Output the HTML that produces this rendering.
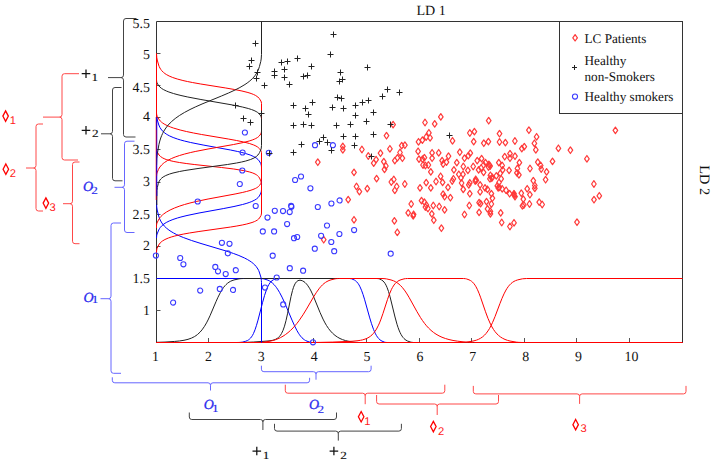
<!DOCTYPE html><html><head><meta charset="utf-8"><style>html,body{margin:0;padding:0;background:#fff;}svg{display:block;text-rendering:geometricPrecision;}.sf{font-family:"Liberation Serif",serif;} .ss{font-family:"Liberation Sans",sans-serif;}</style></head><body>
<svg width="713" height="465" viewBox="0 0 713 465">
<rect width="713" height="465" fill="#fff"/>
<path d="M156.5,343 L156.5,21.5 L682.5,21.5 L682.5,343" fill="none" stroke="#333" stroke-width="1"/>
<path d="M156.5,342.5 L682.5,342.5" fill="none" stroke="#333" stroke-width="1"/>
<path d="M208.5,342 L208.5,338 M261.5,342 L261.5,338 M313.5,342 L313.5,338 M366.5,342 L366.5,338 M419.5,342 L419.5,338 M471.5,342 L471.5,338 M524.5,342 L524.5,338 M576.5,342 L576.5,338 M629.5,342 L629.5,338 M156.5,310.5 L160.5,310.5 M156.5,278.5 L160.5,278.5 M156.5,246.5 L160.5,246.5 M156.5,214.5 L160.5,214.5 M156.5,182.5 L160.5,182.5 M156.5,149.5 L160.5,149.5 M156.5,117.5 L160.5,117.5 M156.5,85.5 L160.5,85.5 M156.5,53.5 L160.5,53.5" stroke="#555" stroke-width="1" fill="none"/>
<path d="M156.50,278.50 L261.50,278.50 L264.00,278.88 L268.00,280.20 L269.50,280.93 L271.00,281.88 L272.50,283.08 L274.00,284.55 L275.50,286.30 L276.50,287.63 L278.00,289.86 L279.50,292.37 L282.00,297.10 L284.50,302.43 L292.00,320.10 L294.50,325.71 L297.00,330.67 L298.50,333.22 L299.50,334.73 L300.50,336.08 L302.00,337.79 L303.00,338.73 L304.50,339.87 L305.50,340.47 L307.00,341.16 L309.50,342.02 L311.00,342.36 L312.50,342.50 L682.50,342.50" fill="none" stroke="#0000ff" stroke-width="1"/>
<path d="M156.50,342.50 L239.00,342.50 L241.00,342.37 L242.50,342.16 L245.50,341.31 L247.50,340.48 L248.50,339.88 L249.50,339.11 L250.50,338.13 L251.50,336.90 L252.50,335.35 L253.50,333.44 L255.00,329.81 L256.50,325.30 L258.00,320.12 L262.50,302.74 L264.50,295.60 L266.50,289.66 L268.00,286.17 L269.00,284.31 L270.00,282.80 L271.00,281.61 L272.00,280.69 L273.50,279.73 L275.50,278.83 L276.50,278.60 L277.50,278.50 L349.50,278.50 L351.50,278.76 L354.50,280.07 L355.50,280.74 L356.50,281.61 L358.00,283.38 L359.00,284.93 L360.00,286.81 L361.50,290.24 L363.00,294.40 L364.50,299.19 L369.50,317.08 L371.50,323.69 L373.50,329.34 L374.50,331.73 L375.50,333.83 L376.50,335.63 L377.50,337.14 L378.50,338.39 L380.00,339.84 L381.00,340.55 L382.00,341.11 L384.50,342.13 L385.50,342.37 L387.00,342.50 L682.50,342.50" fill="none" stroke="#0000ff" stroke-width="1"/>
<path d="M156.50,342.34 L165.00,342.07 L174.50,341.44 L179.50,340.96 L184.00,340.28 L188.00,339.33 L191.50,338.09 L194.50,336.58 L196.00,335.62 L197.50,334.49 L200.00,332.18 L202.00,329.86 L204.50,326.30 L206.50,322.88 L208.00,319.99 L210.00,315.74 L216.00,301.67 L218.00,297.21 L220.50,292.27 L222.50,288.97 L223.50,287.54 L225.00,285.68 L226.00,284.62 L227.50,283.27 L229.00,282.18 L230.50,281.31 L232.00,280.63 L234.00,279.95 L239.00,278.83 L241.00,278.61 L243.50,278.50 L377.00,278.50 L378.50,278.66 L379.50,278.97 L381.50,279.91 L383.00,280.98 L384.00,282.02 L385.00,283.39 L386.00,285.15 L387.00,287.34 L388.50,291.48 L390.00,296.62 L395.00,317.01 L397.00,324.25 L398.00,327.34 L399.00,330.06 L400.00,332.40 L401.00,334.38 L402.00,336.05 L403.00,337.42 L404.00,338.55 L405.00,339.46 L406.00,340.18 L407.50,341.00 L411.00,342.22 L413.50,342.50 L682.50,342.50" fill="none" stroke="#222222" stroke-width="1"/>
<path d="M156.50,342.50 L236.50,342.50 L246.50,342.33 L253.50,342.02 L264.00,341.31 L269.00,340.88 L272.50,340.33 L274.00,339.92 L275.50,339.35 L277.50,338.21 L278.50,337.41 L279.50,336.41 L280.50,335.15 L281.50,333.56 L283.00,330.43 L284.50,326.17 L286.00,320.62 L287.50,313.85 L291.00,296.55 L292.50,290.49 L293.50,287.32 L294.00,286.01 L295.00,283.88 L295.50,283.04 L296.50,281.77 L297.00,281.30 L298.00,280.66 L299.00,280.32 L300.00,280.23 L301.00,280.34 L302.50,280.83 L304.00,281.69 L305.00,282.47 L306.50,283.97 L307.50,285.19 L309.50,288.22 L311.00,290.98 L313.00,295.25 L320.00,312.40 L323.00,319.07 L325.00,322.93 L326.50,325.49 L328.50,328.49 L330.50,331.03 L332.50,333.18 L335.00,335.38 L337.50,337.13 L340.00,338.52 L342.50,339.60 L345.50,340.58 L348.00,341.18 L353.00,342.11 L355.00,342.35 L358.50,342.50 L682.50,342.50" fill="none" stroke="#222222" stroke-width="1"/>
<path d="M156.50,342.50 L257.50,342.50 L262.00,342.33 L265.00,342.01 L271.00,340.98 L273.50,340.35 L275.50,339.72 L278.00,338.76 L280.50,337.59 L283.00,336.19 L285.50,334.54 L288.00,332.63 L290.50,330.44 L293.00,327.95 L295.00,325.74 L297.00,323.33 L299.00,320.70 L303.00,314.82 L306.50,309.09 L313.50,297.02 L316.50,292.25 L319.50,288.14 L321.00,286.38 L322.50,284.84 L324.00,283.52 L325.50,282.41 L327.00,281.49 L329.00,280.54 L331.00,279.85 L335.00,278.85 L336.50,278.64 L338.50,278.50 L382.00,278.50 L384.00,278.60 L386.50,278.90 L391.00,279.94 L393.50,280.79 L395.50,281.74 L398.00,283.34 L400.50,285.50 L402.50,287.67 L405.00,290.93 L407.00,293.95 L409.00,297.27 L417.00,311.73 L420.50,317.58 L422.50,320.59 L424.50,323.33 L426.50,325.80 L428.50,327.99 L431.00,330.38 L433.50,332.42 L436.00,334.14 L439.00,335.85 L442.00,337.25 L445.50,338.54 L449.00,339.56 L453.00,340.44 L457.50,341.16 L465.50,342.11 L468.50,342.34 L473.50,342.50 L682.50,342.50" fill="none" stroke="#ff0000" stroke-width="1"/>
<path d="M156.50,342.50 L308.00,342.50 L320.50,342.38 L332.50,342.10 L352.00,341.26 L358.00,340.70 L360.50,340.29 L362.50,339.86 L365.00,339.11 L367.00,338.30 L369.00,337.22 L370.50,336.18 L372.00,334.90 L373.50,333.32 L375.00,331.39 L376.50,329.04 L378.50,325.17 L379.50,322.91 L381.00,319.10 L383.00,313.36 L387.50,299.44 L389.50,293.90 L391.50,289.30 L392.50,287.40 L394.00,285.03 L395.00,283.75 L396.50,282.23 L397.50,281.44 L399.00,280.53 L401.00,279.72 L404.00,278.86 L405.50,278.62 L407.50,278.50 L463.50,278.50 L465.50,278.68 L466.50,278.92 L469.00,279.82 L470.50,280.56 L471.50,281.24 L472.50,282.09 L474.00,283.74 L475.00,285.13 L476.00,286.77 L477.50,289.71 L479.00,293.21 L480.50,297.17 L485.50,311.75 L488.00,318.46 L490.50,324.14 L492.00,327.00 L493.50,329.48 L495.00,331.60 L497.00,333.94 L498.50,335.39 L500.50,336.97 L502.50,338.23 L505.00,339.45 L507.50,340.36 L510.00,341.03 L516.50,342.17 L518.50,342.35 L522.00,342.50 L682.50,342.50" fill="none" stroke="#ff0000" stroke-width="1"/>
<path d="M156.50,342.50 L460.00,342.50 L464.00,342.34 L466.50,342.11 L471.50,341.34 L474.00,340.83 L476.50,340.11 L478.50,339.32 L480.50,338.28 L482.50,336.93 L484.50,335.18 L486.00,333.55 L488.00,330.88 L489.50,328.48 L491.00,325.71 L492.50,322.58 L495.00,316.63 L500.00,303.40 L502.00,298.36 L504.00,293.86 L506.00,290.04 L507.00,288.40 L508.50,286.28 L509.50,285.07 L511.00,283.56 L512.50,282.35 L514.00,281.40 L515.50,280.66 L517.50,279.95 L522.50,278.79 L526.50,278.50 L682.50,278.50" fill="none" stroke="#ff0000" stroke-width="1"/>
<path d="M156.50,117.50 L156.50,202.50 L156.76,207.00 L157.20,210.00 L158.68,216.00 L159.35,218.00 L160.20,220.00 L161.27,222.00 L162.61,224.00 L164.28,226.00 L166.34,228.00 L168.85,230.00 L171.07,231.50 L173.62,233.00 L176.50,234.50 L179.74,236.00 L183.34,237.50 L191.58,240.50 L201.01,243.50 L226.10,251.00 L233.58,253.50 L238.88,255.50 L244.54,258.00 L247.40,259.50 L249.88,261.00 L251.34,262.00 L253.24,263.50 L254.84,265.00 L256.17,266.50 L257.88,269.00 L258.66,270.50 L259.28,272.00 L260.85,277.00 L261.16,278.50 L261.36,280.50 L261.50,282.50 L261.50,342.50" fill="none" stroke="#0000ff" stroke-width="1"/>
<path d="M156.80,117.50 L157.31,120.00 L158.84,125.00 L159.99,127.50 L160.93,129.00 L161.69,130.00 L163.61,132.00 L164.82,133.00 L166.23,134.00 L167.86,135.00 L169.76,136.00 L173.17,137.50 L177.36,139.00 L180.64,140.00 L184.33,141.00 L190.66,142.50 L203.11,145.00 L230.53,150.00 L237.70,151.50 L241.90,152.50 L245.59,153.50 L250.16,155.00 L253.65,156.50 L256.21,158.00 L258.03,159.50 L259.27,161.00 L260.73,163.50 L261.27,165.00 L261.50,167.00 L261.50,189.50 L261.30,191.50 L260.90,193.00 L259.34,196.00 L258.17,197.50 L256.41,199.00 L254.85,200.00 L251.79,201.50 L249.20,202.50 L246.14,203.50 L242.57,204.50 L233.98,206.50 L223.77,208.50 L199.02,213.00 L187.01,215.50 L180.96,217.00 L177.44,218.00 L172.92,219.50 L169.23,221.00 L166.26,222.50 L163.91,224.00 L162.07,225.50 L160.24,227.50 L159.55,228.50 L158.72,230.00 L157.09,234.00 L156.73,235.50 L156.50,238.00" fill="none" stroke="#0000ff" stroke-width="1"/>
<path d="M156.50,53.50 L156.78,57.50 L157.23,60.00 L158.63,65.00 L159.20,66.50 L159.92,68.00 L160.84,69.50 L161.60,70.50 L163.57,72.50 L164.84,73.50 L166.34,74.50 L169.13,76.00 L172.71,77.50 L177.25,79.00 L182.91,80.50 L187.36,81.50 L192.35,82.50 L200.77,84.00 L225.81,88.00 L234.50,89.50 L241.96,91.00 L247.94,92.50 L251.10,93.50 L253.65,94.50 L255.67,95.50 L257.86,97.00 L259.29,98.50 L260.90,101.00 L261.27,102.00 L261.50,103.50 L261.50,131.00 L261.40,132.00 L261.20,133.00 L260.72,134.00 L259.22,136.00 L258.14,137.00 L257.46,137.50 L255.77,138.50 L254.73,139.00 L252.25,140.00 L249.15,141.00 L243.34,142.50 L233.60,144.50 L208.05,149.00 L195.19,151.50 L190.69,152.50 L184.68,154.00 L179.54,155.50 L175.19,157.00 L171.53,158.50 L167.56,160.50 L164.46,162.50 L163.19,163.50 L161.58,165.00 L159.91,167.00 L159.25,168.00 L158.45,169.50 L156.95,173.00 L156.66,174.50 L156.55,176.00" fill="none" stroke="#ff0000" stroke-width="1"/>
<path d="M156.50,90.00 L156.50,113.00 L156.74,115.00 L157.30,116.50 L158.70,119.00 L159.41,120.00 L160.28,121.00 L161.35,122.00 L162.64,123.00 L164.17,124.00 L165.98,125.00 L168.10,126.00 L170.55,127.00 L173.36,128.00 L180.17,130.00 L186.39,131.50 L193.56,133.00 L201.61,134.50 L228.27,139.00 L236.52,140.50 L243.66,142.00 L249.44,143.50 L253.78,145.00 L255.94,146.00 L257.60,147.00 L258.26,147.50 L259.31,148.50 L260.86,150.50 L261.30,151.50 L261.50,152.50 L261.50,180.50 L261.40,181.50 L261.23,182.50 L260.81,183.50 L259.45,185.50 L258.52,186.50 L257.90,187.00 L256.32,188.00 L255.33,188.50 L252.96,189.50 L250.00,190.50 L246.42,191.50 L242.26,192.50 L235.07,194.00 L208.08,199.00 L196.13,201.50 L189.96,203.00 L184.55,204.50 L179.83,206.00 L174.51,208.00 L170.12,210.00 L166.53,212.00 L163.64,214.00 L162.43,215.00 L160.89,216.50 L160.04,217.50 L158.99,219.00 L156.96,223.00 L156.70,224.00 L156.50,225.50 L156.50,228.00" fill="none" stroke="#ff0000" stroke-width="1"/>
<path d="M156.50,130.00 L156.50,148.50 L156.77,150.50 L157.31,152.00 L158.40,154.00 L159.07,155.00 L160.53,156.50 L162.78,158.00 L164.90,159.00 L166.22,159.50 L169.52,160.50 L173.85,161.50 L179.38,162.50 L186.20,163.50 L194.23,164.50 L221.62,167.50 L233.76,169.00 L243.14,170.50 L245.62,171.00 L249.71,172.00 L252.80,173.00 L255.09,174.00 L256.76,175.00 L257.42,175.50 L258.45,176.50 L259.50,178.00 L260.90,181.00 L261.28,182.50 L261.50,184.50 L261.50,213.00 L261.39,214.00 L261.03,215.50 L259.49,218.00 L258.63,219.00 L257.41,220.00 L255.71,221.00 L254.65,221.50 L252.05,222.50 L246.78,224.00 L242.23,225.00 L236.85,226.00 L230.71,227.00 L198.93,231.50 L189.38,233.00 L183.82,234.00 L178.96,235.00 L174.80,236.00 L171.29,237.00 L168.38,238.00 L164.95,239.50 L162.43,241.00 L161.16,242.00 L160.14,243.00 L159.33,244.00 L158.68,245.00 L157.02,248.50 L156.68,250.00 L156.50,252.00 L156.50,253.00" fill="none" stroke="#ff0000" stroke-width="1"/>
<path d="M261.50,21.50 L261.50,54.50 L261.20,59.00 L260.75,61.50 L259.46,66.50 L258.64,69.00 L257.79,71.00 L257.03,72.50 L256.13,74.00 L255.08,75.50 L253.88,77.00 L252.50,78.50 L250.93,80.00 L249.16,81.50 L247.17,83.00 L244.97,84.50 L239.90,87.50 L235.04,90.00 L228.53,93.00 L221.48,96.00 L202.03,104.00 L195.24,107.00 L190.03,109.50 L184.38,112.50 L179.45,115.50 L175.22,118.50 L171.65,121.50 L170.10,123.00 L168.24,125.00 L166.61,127.00 L165.18,129.00 L163.93,131.00 L162.60,133.50 L161.69,135.50 L160.73,138.00 L159.79,141.00 L158.93,144.50 L157.28,154.00 L156.78,158.50 L156.55,165.00" fill="none" stroke="#222222" stroke-width="1"/>
<path d="M156.50,80.00 L156.69,82.00 L157.01,83.00 L158.58,85.50 L159.87,87.00 L161.72,88.50 L163.32,89.50 L166.38,91.00 L168.89,92.00 L173.43,93.50 L177.00,94.50 L180.99,95.50 L187.77,97.00 L200.92,99.50 L232.67,105.00 L242.40,107.00 L248.28,108.50 L251.46,109.50 L254.06,110.50 L256.12,111.50 L257.71,112.50 L259.37,114.00 L260.83,116.00 L261.25,117.00 L261.50,118.50 L261.50,145.50 L261.27,148.00 L261.05,149.00 L260.70,150.00 L259.58,152.50 L259.03,153.50 L257.92,155.00 L256.33,156.50 L253.99,158.00 L250.59,159.50 L245.77,161.00 L241.58,162.00 L236.54,163.00 L227.41,164.50 L198.03,168.50 L184.91,170.50 L179.52,171.50 L173.00,173.00 L169.63,174.00 L165.80,175.50 L163.11,177.00 L161.79,178.00 L160.76,179.00 L159.96,180.00 L159.34,181.00 L158.85,182.00 L158.31,183.50 L157.34,187.50 L156.98,190.50 L156.81,205.00" fill="none" stroke="#222222" stroke-width="1"/>
<path d="M156.5,53.5 L156.5,117" stroke="#ff0000" stroke-width="1"/>
<path d="M156.15,117 L156.15,200" stroke="#ff0000" stroke-width="0.75"/>
<path d="M156.85,117 L156.85,196" stroke="#0000ff" stroke-width="0.75"/>
<path d="M393.1,121.3 l2.3,3.3 l-2.3,3.3 l-2.3,-3.3z M425.0,119.2 l2.3,3.3 l-2.3,3.3 l-2.3,-3.3z M386.5,132.4 l2.3,3.3 l-2.3,3.3 l-2.3,-3.3z M428.9,129.5 l2.3,3.3 l-2.3,3.3 l-2.3,-3.3z M426.2,133.7 l2.3,3.3 l-2.3,3.3 l-2.3,-3.3z M422.4,136.8 l2.3,3.3 l-2.3,3.3 l-2.3,-3.3z M418.5,138.5 l2.3,3.3 l-2.3,3.3 l-2.3,-3.3z M401.7,142.3 l2.3,3.3 l-2.3,3.3 l-2.3,-3.3z M404.9,141.9 l2.3,3.3 l-2.3,3.3 l-2.3,-3.3z M342.8,143.1 l2.3,3.3 l-2.3,3.3 l-2.3,-3.3z M342.8,146.5 l2.3,3.3 l-2.3,3.3 l-2.3,-3.3z M440.8,113.6 l2.3,3.3 l-2.3,3.3 l-2.3,-3.3z M434.7,120.6 l2.3,3.3 l-2.3,3.3 l-2.3,-3.3z M430.1,134.5 l2.3,3.3 l-2.3,3.3 l-2.3,-3.3z M452.5,137.5 l2.3,3.3 l-2.3,3.3 l-2.3,-3.3z M488.7,117.4 l2.3,3.3 l-2.3,3.3 l-2.3,-3.3z M469.8,129.7 l2.3,3.3 l-2.3,3.3 l-2.3,-3.3z M474.4,128.3 l2.3,3.3 l-2.3,3.3 l-2.3,-3.3z M499.5,130.4 l2.3,3.3 l-2.3,3.3 l-2.3,-3.3z M473.7,138.3 l2.3,3.3 l-2.3,3.3 l-2.3,-3.3z M483.8,139.9 l2.3,3.3 l-2.3,3.3 l-2.3,-3.3z M488.4,138.3 l2.3,3.3 l-2.3,3.3 l-2.3,-3.3z M499.5,138.7 l2.3,3.3 l-2.3,3.3 l-2.3,-3.3z M505.4,139.3 l2.3,3.3 l-2.3,3.3 l-2.3,-3.3z M514.9,137.7 l2.3,3.3 l-2.3,3.3 l-2.3,-3.3z M528.9,126.9 l2.3,3.3 l-2.3,3.3 l-2.3,-3.3z M536.6,133.5 l2.3,3.3 l-2.3,3.3 l-2.3,-3.3z M521.8,145.3 l2.3,3.3 l-2.3,3.3 l-2.3,-3.3z M524.3,143.4 l2.3,3.3 l-2.3,3.3 l-2.3,-3.3z M534.4,140.0 l2.3,3.3 l-2.3,3.3 l-2.3,-3.3z M558.4,145.0 l2.3,3.3 l-2.3,3.3 l-2.3,-3.3z M615.4,127.1 l2.3,3.3 l-2.3,3.3 l-2.3,-3.3z M570.4,146.9 l2.3,3.3 l-2.3,3.3 l-2.3,-3.3z M586.9,155.5 l2.3,3.3 l-2.3,3.3 l-2.3,-3.3z M361.9,146.2 l2.3,3.3 l-2.3,3.3 l-2.3,-3.3z M368.3,152.7 l2.3,3.3 l-2.3,3.3 l-2.3,-3.3z M380.5,149.9 l2.3,3.3 l-2.3,3.3 l-2.3,-3.3z M389.9,145.5 l2.3,3.3 l-2.3,3.3 l-2.3,-3.3z M376.1,156.3 l2.3,3.3 l-2.3,3.3 l-2.3,-3.3z M373.7,159.8 l2.3,3.3 l-2.3,3.3 l-2.3,-3.3z M383.8,158.3 l2.3,3.3 l-2.3,3.3 l-2.3,-3.3z M385.9,162.7 l2.3,3.3 l-2.3,3.3 l-2.3,-3.3z M384.5,166.1 l2.3,3.3 l-2.3,3.3 l-2.3,-3.3z M394.8,157.3 l2.3,3.3 l-2.3,3.3 l-2.3,-3.3z M397.4,154.6 l2.3,3.3 l-2.3,3.3 l-2.3,-3.3z M400.0,149.2 l2.3,3.3 l-2.3,3.3 l-2.3,-3.3z M354.0,169.1 l2.3,3.3 l-2.3,3.3 l-2.3,-3.3z M376.6,175.3 l2.3,3.3 l-2.3,3.3 l-2.3,-3.3z M393.8,176.2 l2.3,3.3 l-2.3,3.3 l-2.3,-3.3z M391.3,178.7 l2.3,3.3 l-2.3,3.3 l-2.3,-3.3z M356.5,183.2 l2.3,3.3 l-2.3,3.3 l-2.3,-3.3z M396.7,183.2 l2.3,3.3 l-2.3,3.3 l-2.3,-3.3z M402.4,154.9 l2.3,3.3 l-2.3,3.3 l-2.3,-3.3z M418.1,148.0 l2.3,3.3 l-2.3,3.3 l-2.3,-3.3z M419.0,155.8 l2.3,3.3 l-2.3,3.3 l-2.3,-3.3z M422.5,155.8 l2.3,3.3 l-2.3,3.3 l-2.3,-3.3z M424.4,154.4 l2.3,3.3 l-2.3,3.3 l-2.3,-3.3z M423.0,161.7 l2.3,3.3 l-2.3,3.3 l-2.3,-3.3z M425.4,162.2 l2.3,3.3 l-2.3,3.3 l-2.3,-3.3z M428.4,161.7 l2.3,3.3 l-2.3,3.3 l-2.3,-3.3z M430.8,168.6 l2.3,3.3 l-2.3,3.3 l-2.3,-3.3z M432.1,149.5 l2.3,3.3 l-2.3,3.3 l-2.3,-3.3z M432.1,154.9 l2.3,3.3 l-2.3,3.3 l-2.3,-3.3z M438.7,149.5 l2.3,3.3 l-2.3,3.3 l-2.3,-3.3z M448.5,152.9 l2.3,3.3 l-2.3,3.3 l-2.3,-3.3z M442.1,157.3 l2.3,3.3 l-2.3,3.3 l-2.3,-3.3z M443.1,160.7 l2.3,3.3 l-2.3,3.3 l-2.3,-3.3z M446.5,158.8 l2.3,3.3 l-2.3,3.3 l-2.3,-3.3z M459.8,148.9 l2.3,3.3 l-2.3,3.3 l-2.3,-3.3z M456.8,159.3 l2.3,3.3 l-2.3,3.3 l-2.3,-3.3z M464.5,154.9 l2.3,3.3 l-2.3,3.3 l-2.3,-3.3z M453.9,166.6 l2.3,3.3 l-2.3,3.3 l-2.3,-3.3z M463.3,163.2 l2.3,3.3 l-2.3,3.3 l-2.3,-3.3z M458.8,171.0 l2.3,3.3 l-2.3,3.3 l-2.3,-3.3z M463.0,171.0 l2.3,3.3 l-2.3,3.3 l-2.3,-3.3z M461.0,174.5 l2.3,3.3 l-2.3,3.3 l-2.3,-3.3z M453.4,175.5 l2.3,3.3 l-2.3,3.3 l-2.3,-3.3z M452.2,177.7 l2.3,3.3 l-2.3,3.3 l-2.3,-3.3z M440.6,173.0 l2.3,3.3 l-2.3,3.3 l-2.3,-3.3z M436.0,178.2 l2.3,3.3 l-2.3,3.3 l-2.3,-3.3z M442.6,179.1 l2.3,3.3 l-2.3,3.3 l-2.3,-3.3z M426.2,179.3 l2.3,3.3 l-2.3,3.3 l-2.3,-3.3z M404.8,180.7 l2.3,3.3 l-2.3,3.3 l-2.3,-3.3z M461.6,179.7 l2.3,3.3 l-2.3,3.3 l-2.3,-3.3z M468.3,152.4 l2.3,3.3 l-2.3,3.3 l-2.3,-3.3z M470.3,149.9 l2.3,3.3 l-2.3,3.3 l-2.3,-3.3z M477.2,157.3 l2.3,3.3 l-2.3,3.3 l-2.3,-3.3z M481.6,155.3 l2.3,3.3 l-2.3,3.3 l-2.3,-3.3z M473.2,163.2 l2.3,3.3 l-2.3,3.3 l-2.3,-3.3z M467.9,167.1 l2.3,3.3 l-2.3,3.3 l-2.3,-3.3z M478.6,166.6 l2.3,3.3 l-2.3,3.3 l-2.3,-3.3z M481.1,164.7 l2.3,3.3 l-2.3,3.3 l-2.3,-3.3z M483.6,161.7 l2.3,3.3 l-2.3,3.3 l-2.3,-3.3z M485.5,159.3 l2.3,3.3 l-2.3,3.3 l-2.3,-3.3z M489.4,161.7 l2.3,3.3 l-2.3,3.3 l-2.3,-3.3z M488.5,163.7 l2.3,3.3 l-2.3,3.3 l-2.3,-3.3z M483.6,169.1 l2.3,3.3 l-2.3,3.3 l-2.3,-3.3z M490.4,172.0 l2.3,3.3 l-2.3,3.3 l-2.3,-3.3z M492.4,174.0 l2.3,3.3 l-2.3,3.3 l-2.3,-3.3z M489.9,175.5 l2.3,3.3 l-2.3,3.3 l-2.3,-3.3z M475.7,176.0 l2.3,3.3 l-2.3,3.3 l-2.3,-3.3z M475.2,177.7 l2.3,3.3 l-2.3,3.3 l-2.3,-3.3z M469.8,179.5 l2.3,3.3 l-2.3,3.3 l-2.3,-3.3z M498.8,159.3 l2.3,3.3 l-2.3,3.3 l-2.3,-3.3z M502.2,162.2 l2.3,3.3 l-2.3,3.3 l-2.3,-3.3z M502.7,166.6 l2.3,3.3 l-2.3,3.3 l-2.3,-3.3z M509.1,167.1 l2.3,3.3 l-2.3,3.3 l-2.3,-3.3z M500.2,170.1 l2.3,3.3 l-2.3,3.3 l-2.3,-3.3z M496.3,172.5 l2.3,3.3 l-2.3,3.3 l-2.3,-3.3z M501.2,175.5 l2.3,3.3 l-2.3,3.3 l-2.3,-3.3z M499.0,179.2 l2.3,3.3 l-2.3,3.3 l-2.3,-3.3z M504.7,153.4 l2.3,3.3 l-2.3,3.3 l-2.3,-3.3z M510.0,150.4 l2.3,3.3 l-2.3,3.3 l-2.3,-3.3z M510.0,154.9 l2.3,3.3 l-2.3,3.3 l-2.3,-3.3z M515.0,152.9 l2.3,3.3 l-2.3,3.3 l-2.3,-3.3z M519.4,159.3 l2.3,3.3 l-2.3,3.3 l-2.3,-3.3z M517.4,165.2 l2.3,3.3 l-2.3,3.3 l-2.3,-3.3z M516.9,169.6 l2.3,3.3 l-2.3,3.3 l-2.3,-3.3z M518.9,171.5 l2.3,3.3 l-2.3,3.3 l-2.3,-3.3z M530.0,165.2 l2.3,3.3 l-2.3,3.3 l-2.3,-3.3z M535.8,146.5 l2.3,3.3 l-2.3,3.3 l-2.3,-3.3z M552.5,158.1 l2.3,3.3 l-2.3,3.3 l-2.3,-3.3z M537.8,158.8 l2.3,3.3 l-2.3,3.3 l-2.3,-3.3z M540.7,162.2 l2.3,3.3 l-2.3,3.3 l-2.3,-3.3z M541.2,165.7 l2.3,3.3 l-2.3,3.3 l-2.3,-3.3z M546.6,168.6 l2.3,3.3 l-2.3,3.3 l-2.3,-3.3z M533.3,177.4 l2.3,3.3 l-2.3,3.3 l-2.3,-3.3z M545.6,176.4 l2.3,3.3 l-2.3,3.3 l-2.3,-3.3z M534.8,182.2 l2.3,3.3 l-2.3,3.3 l-2.3,-3.3z M534.8,185.0 l2.3,3.3 l-2.3,3.3 l-2.3,-3.3z M593.9,180.7 l2.3,3.3 l-2.3,3.3 l-2.3,-3.3z M599.3,192.5 l2.3,3.3 l-2.3,3.3 l-2.3,-3.3z M594.0,196.4 l2.3,3.3 l-2.3,3.3 l-2.3,-3.3z M577.0,218.9 l2.3,3.3 l-2.3,3.3 l-2.3,-3.3z M359.4,188.3 l2.3,3.3 l-2.3,3.3 l-2.3,-3.3z M367.3,185.3 l2.3,3.3 l-2.3,3.3 l-2.3,-3.3z M394.8,187.0 l2.3,3.3 l-2.3,3.3 l-2.3,-3.3z M348.2,196.3 l2.3,3.3 l-2.3,3.3 l-2.3,-3.3z M354.0,216.5 l2.3,3.3 l-2.3,3.3 l-2.3,-3.3z M394.4,217.6 l2.3,3.3 l-2.3,3.3 l-2.3,-3.3z M397.3,229.0 l2.3,3.3 l-2.3,3.3 l-2.3,-3.3z M420.0,184.6 l2.3,3.3 l-2.3,3.3 l-2.3,-3.3z M430.8,184.6 l2.3,3.3 l-2.3,3.3 l-2.3,-3.3z M448.0,184.1 l2.3,3.3 l-2.3,3.3 l-2.3,-3.3z M463.3,186.0 l2.3,3.3 l-2.3,3.3 l-2.3,-3.3z M443.1,190.9 l2.3,3.3 l-2.3,3.3 l-2.3,-3.3z M444.6,193.4 l2.3,3.3 l-2.3,3.3 l-2.3,-3.3z M450.4,194.4 l2.3,3.3 l-2.3,3.3 l-2.3,-3.3z M411.2,200.7 l2.3,3.3 l-2.3,3.3 l-2.3,-3.3z M421.5,197.3 l2.3,3.3 l-2.3,3.3 l-2.3,-3.3z M424.4,198.8 l2.3,3.3 l-2.3,3.3 l-2.3,-3.3z M426.4,201.7 l2.3,3.3 l-2.3,3.3 l-2.3,-3.3z M425.4,203.7 l2.3,3.3 l-2.3,3.3 l-2.3,-3.3z M427.9,205.2 l2.3,3.3 l-2.3,3.3 l-2.3,-3.3z M433.3,202.2 l2.3,3.3 l-2.3,3.3 l-2.3,-3.3z M439.2,203.2 l2.3,3.3 l-2.3,3.3 l-2.3,-3.3z M444.6,206.6 l2.3,3.3 l-2.3,3.3 l-2.3,-3.3z M408.2,209.6 l2.3,3.3 l-2.3,3.3 l-2.3,-3.3z M413.6,211.0 l2.3,3.3 l-2.3,3.3 l-2.3,-3.3z M413.2,212.5 l2.3,3.3 l-2.3,3.3 l-2.3,-3.3z M431.8,210.6 l2.3,3.3 l-2.3,3.3 l-2.3,-3.3z M433.8,216.9 l2.3,3.3 l-2.3,3.3 l-2.3,-3.3z M464.5,211.2 l2.3,3.3 l-2.3,3.3 l-2.3,-3.3z M468.8,181.6 l2.3,3.3 l-2.3,3.3 l-2.3,-3.3z M480.1,181.6 l2.3,3.3 l-2.3,3.3 l-2.3,-3.3z M485.0,184.6 l2.3,3.3 l-2.3,3.3 l-2.3,-3.3z M487.5,186.0 l2.3,3.3 l-2.3,3.3 l-2.3,-3.3z M469.8,190.4 l2.3,3.3 l-2.3,3.3 l-2.3,-3.3z M480.1,188.5 l2.3,3.3 l-2.3,3.3 l-2.3,-3.3z M491.4,190.4 l2.3,3.3 l-2.3,3.3 l-2.3,-3.3z M492.4,194.9 l2.3,3.3 l-2.3,3.3 l-2.3,-3.3z M479.1,199.3 l2.3,3.3 l-2.3,3.3 l-2.3,-3.3z M480.6,200.3 l2.3,3.3 l-2.3,3.3 l-2.3,-3.3z M486.5,198.3 l2.3,3.3 l-2.3,3.3 l-2.3,-3.3z M491.4,200.7 l2.3,3.3 l-2.3,3.3 l-2.3,-3.3z M469.3,202.2 l2.3,3.3 l-2.3,3.3 l-2.3,-3.3z M487.5,205.6 l2.3,3.3 l-2.3,3.3 l-2.3,-3.3z M490.4,208.1 l2.3,3.3 l-2.3,3.3 l-2.3,-3.3z M490.4,210.6 l2.3,3.3 l-2.3,3.3 l-2.3,-3.3z M479.1,209.1 l2.3,3.3 l-2.3,3.3 l-2.3,-3.3z M497.3,182.6 l2.3,3.3 l-2.3,3.3 l-2.3,-3.3z M499.3,184.1 l2.3,3.3 l-2.3,3.3 l-2.3,-3.3z M502.2,185.5 l2.3,3.3 l-2.3,3.3 l-2.3,-3.3z M506.1,187.0 l2.3,3.3 l-2.3,3.3 l-2.3,-3.3z M509.6,190.4 l2.3,3.3 l-2.3,3.3 l-2.3,-3.3z M514.0,190.4 l2.3,3.3 l-2.3,3.3 l-2.3,-3.3z M515.0,193.4 l2.3,3.3 l-2.3,3.3 l-2.3,-3.3z M521.3,189.9 l2.3,3.3 l-2.3,3.3 l-2.3,-3.3z M527.2,185.5 l2.3,3.3 l-2.3,3.3 l-2.3,-3.3z M523.3,195.8 l2.3,3.3 l-2.3,3.3 l-2.3,-3.3z M523.8,201.7 l2.3,3.3 l-2.3,3.3 l-2.3,-3.3z M529.5,200.7 l2.3,3.3 l-2.3,3.3 l-2.3,-3.3z M500.7,209.6 l2.3,3.3 l-2.3,3.3 l-2.3,-3.3z M501.7,219.2 l2.3,3.3 l-2.3,3.3 l-2.3,-3.3z M514.0,219.5 l2.3,3.3 l-2.3,3.3 l-2.3,-3.3z M509.9,223.2 l2.3,3.3 l-2.3,3.3 l-2.3,-3.3z M529.9,191.4 l2.3,3.3 l-2.3,3.3 l-2.3,-3.3z M539.2,198.8 l2.3,3.3 l-2.3,3.3 l-2.3,-3.3z M542.2,201.2 l2.3,3.3 l-2.3,3.3 l-2.3,-3.3z M441.4,224.9 l2.3,3.3 l-2.3,3.3 l-2.3,-3.3z M317.8,158.9 l2.3,3.3 l-2.3,3.3 l-2.3,-3.3z M323.7,236.4 l2.3,3.3 l-2.3,3.3 l-2.3,-3.3z M490.2,162.7 l2.3,3.3 l-2.3,3.3 l-2.3,-3.3z M488.8,161.1 l2.3,3.3 l-2.3,3.3 l-2.3,-3.3z M476.3,177.0 l2.3,3.3 l-2.3,3.3 l-2.3,-3.3z M491.8,174.9 l2.3,3.3 l-2.3,3.3 l-2.3,-3.3z M463.2,186.1 l2.3,3.3 l-2.3,3.3 l-2.3,-3.3z M498.2,184.6 l2.3,3.3 l-2.3,3.3 l-2.3,-3.3z M522.4,202.5 l2.3,3.3 l-2.3,3.3 l-2.3,-3.3z M514.3,192.1 l2.3,3.3 l-2.3,3.3 l-2.3,-3.3z" fill="none" stroke="#ff3a3a" stroke-width="1.2" stroke-linejoin="round"/>
<path d="M242.35,132.50 a2.55,2.55 0 1,0 5.1,0 a2.55,2.55 0 1,0 -5.1,0 M312.45,145.20 a2.55,2.55 0 1,0 5.1,0 a2.55,2.55 0 1,0 -5.1,0 M330.35,145.20 a2.55,2.55 0 1,0 5.1,0 a2.55,2.55 0 1,0 -5.1,0 M266.25,152.80 a2.55,2.55 0 1,0 5.1,0 a2.55,2.55 0 1,0 -5.1,0 M240.05,152.50 a2.55,2.55 0 1,0 5.1,0 a2.55,2.55 0 1,0 -5.1,0 M239.75,170.50 a2.55,2.55 0 1,0 5.1,0 a2.55,2.55 0 1,0 -5.1,0 M237.25,184.00 a2.55,2.55 0 1,0 5.1,0 a2.55,2.55 0 1,0 -5.1,0 M292.55,180.00 a2.55,2.55 0 1,0 5.1,0 a2.55,2.55 0 1,0 -5.1,0 M298.45,176.50 a2.55,2.55 0 1,0 5.1,0 a2.55,2.55 0 1,0 -5.1,0 M307.85,188.30 a2.55,2.55 0 1,0 5.1,0 a2.55,2.55 0 1,0 -5.1,0 M337.05,200.40 a2.55,2.55 0 1,0 5.1,0 a2.55,2.55 0 1,0 -5.1,0 M328.85,203.50 a2.55,2.55 0 1,0 5.1,0 a2.55,2.55 0 1,0 -5.1,0 M195.15,201.50 a2.55,2.55 0 1,0 5.1,0 a2.55,2.55 0 1,0 -5.1,0 M253.15,206.00 a2.55,2.55 0 1,0 5.1,0 a2.55,2.55 0 1,0 -5.1,0 M272.25,210.80 a2.55,2.55 0 1,0 5.1,0 a2.55,2.55 0 1,0 -5.1,0 M280.45,211.10 a2.55,2.55 0 1,0 5.1,0 a2.55,2.55 0 1,0 -5.1,0 M288.55,205.90 a2.55,2.55 0 1,0 5.1,0 a2.55,2.55 0 1,0 -5.1,0 M288.85,206.70 a2.55,2.55 0 1,0 5.1,0 a2.55,2.55 0 1,0 -5.1,0 M287.15,212.10 a2.55,2.55 0 1,0 5.1,0 a2.55,2.55 0 1,0 -5.1,0 M264.95,217.60 a2.55,2.55 0 1,0 5.1,0 a2.55,2.55 0 1,0 -5.1,0 M284.55,224.10 a2.55,2.55 0 1,0 5.1,0 a2.55,2.55 0 1,0 -5.1,0 M260.25,231.40 a2.55,2.55 0 1,0 5.1,0 a2.55,2.55 0 1,0 -5.1,0 M271.55,231.40 a2.55,2.55 0 1,0 5.1,0 a2.55,2.55 0 1,0 -5.1,0 M291.45,238.20 a2.55,2.55 0 1,0 5.1,0 a2.55,2.55 0 1,0 -5.1,0 M294.65,237.00 a2.55,2.55 0 1,0 5.1,0 a2.55,2.55 0 1,0 -5.1,0 M270.15,255.70 a2.55,2.55 0 1,0 5.1,0 a2.55,2.55 0 1,0 -5.1,0 M315.25,207.00 a2.55,2.55 0 1,0 5.1,0 a2.55,2.55 0 1,0 -5.1,0 M324.45,225.50 a2.55,2.55 0 1,0 5.1,0 a2.55,2.55 0 1,0 -5.1,0 M318.55,235.80 a2.55,2.55 0 1,0 5.1,0 a2.55,2.55 0 1,0 -5.1,0 M336.85,234.00 a2.55,2.55 0 1,0 5.1,0 a2.55,2.55 0 1,0 -5.1,0 M328.75,242.00 a2.55,2.55 0 1,0 5.1,0 a2.55,2.55 0 1,0 -5.1,0 M312.25,248.70 a2.55,2.55 0 1,0 5.1,0 a2.55,2.55 0 1,0 -5.1,0 M331.65,251.20 a2.55,2.55 0 1,0 5.1,0 a2.55,2.55 0 1,0 -5.1,0 M351.55,230.10 a2.55,2.55 0 1,0 5.1,0 a2.55,2.55 0 1,0 -5.1,0 M388.15,253.70 a2.55,2.55 0 1,0 5.1,0 a2.55,2.55 0 1,0 -5.1,0 M219.35,242.80 a2.55,2.55 0 1,0 5.1,0 a2.55,2.55 0 1,0 -5.1,0 M226.95,243.80 a2.55,2.55 0 1,0 5.1,0 a2.55,2.55 0 1,0 -5.1,0 M225.25,253.30 a2.55,2.55 0 1,0 5.1,0 a2.55,2.55 0 1,0 -5.1,0 M153.35,255.60 a2.55,2.55 0 1,0 5.1,0 a2.55,2.55 0 1,0 -5.1,0 M177.65,258.00 a2.55,2.55 0 1,0 5.1,0 a2.55,2.55 0 1,0 -5.1,0 M180.85,264.30 a2.55,2.55 0 1,0 5.1,0 a2.55,2.55 0 1,0 -5.1,0 M212.75,266.90 a2.55,2.55 0 1,0 5.1,0 a2.55,2.55 0 1,0 -5.1,0 M215.45,271.30 a2.55,2.55 0 1,0 5.1,0 a2.55,2.55 0 1,0 -5.1,0 M223.15,274.10 a2.55,2.55 0 1,0 5.1,0 a2.55,2.55 0 1,0 -5.1,0 M233.25,270.20 a2.55,2.55 0 1,0 5.1,0 a2.55,2.55 0 1,0 -5.1,0 M197.65,290.60 a2.55,2.55 0 1,0 5.1,0 a2.55,2.55 0 1,0 -5.1,0 M217.25,288.90 a2.55,2.55 0 1,0 5.1,0 a2.55,2.55 0 1,0 -5.1,0 M230.45,289.90 a2.55,2.55 0 1,0 5.1,0 a2.55,2.55 0 1,0 -5.1,0 M170.55,302.60 a2.55,2.55 0 1,0 5.1,0 a2.55,2.55 0 1,0 -5.1,0 M287.25,268.20 a2.55,2.55 0 1,0 5.1,0 a2.55,2.55 0 1,0 -5.1,0 M300.55,270.70 a2.55,2.55 0 1,0 5.1,0 a2.55,2.55 0 1,0 -5.1,0 M274.15,277.50 a2.55,2.55 0 1,0 5.1,0 a2.55,2.55 0 1,0 -5.1,0 M262.45,287.60 a2.55,2.55 0 1,0 5.1,0 a2.55,2.55 0 1,0 -5.1,0 M280.65,304.40 a2.55,2.55 0 1,0 5.1,0 a2.55,2.55 0 1,0 -5.1,0 M310.45,342.30 a2.55,2.55 0 1,0 5.1,0 a2.55,2.55 0 1,0 -5.1,0" fill="none" stroke="#3a3aff" stroke-width="1.1"/>
<path d="M252.5,43.5 h6 M255.5,40.5 v6 M248.5,60.5 h6 M251.5,57.5 v6 M246.5,66.5 h6 M249.5,63.5 v6 M254.5,72.5 h6 M257.5,69.5 v6 M253.5,78.5 h6 M256.5,75.5 v6 M271.5,71.5 h6 M274.5,68.5 v6 M271.5,75.5 h6 M274.5,72.5 v6 M278.5,62.5 h6 M281.5,59.5 v6 M284.5,61.5 h6 M287.5,58.5 v6 M281.5,69.5 h6 M284.5,66.5 v6 M281.5,77.5 h6 M284.5,74.5 v6 M294.5,58.5 h6 M297.5,55.5 v6 M308.5,66.5 h6 M311.5,63.5 v6 M300.5,76.5 h6 M303.5,73.5 v6 M304.5,75.5 h6 M307.5,72.5 v6 M330.5,34.5 h6 M333.5,31.5 v6 M327.5,54.5 h6 M330.5,51.5 v6 M261.5,85.5 h6 M264.5,82.5 v6 M286.5,84.5 h6 M289.5,81.5 v6 M337.5,72.5 h6 M340.5,69.5 v6 M339.5,79.5 h6 M342.5,76.5 v6 M336.5,81.5 h6 M339.5,78.5 v6 M364.5,67.5 h6 M367.5,64.5 v6 M309.5,102.5 h6 M312.5,99.5 v6 M290.5,105.5 h6 M293.5,102.5 v6 M302.5,108.5 h6 M305.5,105.5 v6 M305.5,114.5 h6 M308.5,111.5 v6 M329.5,107.5 h6 M332.5,104.5 v6 M334.5,97.5 h6 M337.5,94.5 v6 M258.5,113.5 h6 M261.5,110.5 v6 M240.5,118.5 h6 M243.5,115.5 v6 M247.5,122.5 h6 M250.5,119.5 v6 M290.5,125.5 h6 M293.5,122.5 v6 M300.5,124.5 h6 M303.5,121.5 v6 M308.5,125.5 h6 M311.5,122.5 v6 M333.5,125.5 h6 M336.5,122.5 v6 M320.5,137.5 h6 M323.5,134.5 v6 M316.5,141.5 h6 M319.5,138.5 v6 M324.5,142.5 h6 M327.5,139.5 v6 M298.5,144.5 h6 M301.5,141.5 v6 M384.5,89.5 h6 M387.5,86.5 v6 M396.5,92.5 h6 M399.5,89.5 v6 M379.5,96.5 h6 M382.5,93.5 v6 M338.5,98.5 h6 M341.5,95.5 v6 M365.5,100.5 h6 M368.5,97.5 v6 M359.5,102.5 h6 M362.5,99.5 v6 M352.5,105.5 h6 M355.5,102.5 v6 M340.5,108.5 h6 M343.5,105.5 v6 M370.5,112.5 h6 M373.5,109.5 v6 M352.5,115.5 h6 M355.5,112.5 v6 M363.5,121.5 h6 M366.5,118.5 v6 M347.5,124.5 h6 M350.5,121.5 v6 M387.5,124.5 h6 M390.5,121.5 v6 M340.5,136.5 h6 M343.5,133.5 v6 M352.5,136.5 h6 M355.5,133.5 v6 M370.5,134.5 h6 M373.5,131.5 v6 M351.5,145.5 h6 M354.5,142.5 v6 M446.5,135.5 h6 M449.5,132.5 v6 M290.5,152.5 h6 M293.5,149.5 v6 M328.5,150.5 h6 M331.5,147.5 v6 M266.5,153.5 h6 M269.5,150.5 v6 M368.5,156.5 h6 M371.5,153.5 v6 M232.5,105.5 h6 M235.5,102.5 v6" fill="none" stroke="#222" stroke-width="1"/>
<g class="sf" font-size="13.9" fill="#111"><text x="155.50" y="360.5" text-anchor="middle">1</text><text x="208.38" y="360.5" text-anchor="middle">2</text><text x="261.26" y="360.5" text-anchor="middle">3</text><text x="314.14" y="360.5" text-anchor="middle">4</text><text x="367.02" y="360.5" text-anchor="middle">5</text><text x="419.90" y="360.5" text-anchor="middle">6</text><text x="472.78" y="360.5" text-anchor="middle">7</text><text x="525.66" y="360.5" text-anchor="middle">8</text><text x="578.54" y="360.5" text-anchor="middle">9</text><text x="631.42" y="360.5" text-anchor="middle">10</text><text x="149.9" y="27.85" text-anchor="end">5.5</text><text x="149.9" y="59.05" text-anchor="end">5</text><text x="149.9" y="92.15" text-anchor="end">4.5</text><text x="149.9" y="121.25" text-anchor="end">4</text><text x="149.9" y="154.05" text-anchor="end">3.5</text><text x="149.9" y="185.85" text-anchor="end">3</text><text x="149.9" y="219.05" text-anchor="end">2.5</text><text x="149.9" y="250.45" text-anchor="end">2</text><text x="149.9" y="282.85" text-anchor="end">1.5</text><text x="149.9" y="315.35" text-anchor="end">1</text></g>
<text class="sf" x="431.2" y="14.6" font-size="14.1" text-anchor="middle" fill="#111">LD 1</text>
<text class="sf" x="0" y="0" font-size="14.3" text-anchor="middle" fill="#111" transform="translate(700.4,180.2) rotate(90)">LD 2</text>
<rect x="559.5" y="21.5" width="123" height="92" fill="#fff" stroke="#333" stroke-width="1"/>
<path d="M575.1,34.6 l2.3,3.2 l-2.3,3.2 l-2.3,-3.2z" fill="none" stroke="#ff3a3a" stroke-width="1.2" stroke-linejoin="round"/>
<path d="M572,67.5 h5 M574.5,65 v5" stroke="#222" stroke-width="1"/>
<circle cx="575" cy="96.6" r="2.55" fill="none" stroke="#3a3aff" stroke-width="1.1"/>
<g class="sf" font-size="13.2" fill="#111"><text x="584.5" y="43.3">LC Patients</text><text x="584.5" y="65">Healthy</text><text x="584.5" y="80.5">non-Smokers</text><text x="584.5" y="100.5">Healthy smokers</text></g>
<path d="M136.5,18.5 L126.0,18.5 Q123.5,18.5 123.5,21.0 L123.5,75.1 Q123.5,77.6 121.0,77.6 L108.0,77.6 M121.0,77.6 Q123.5,77.6 123.5,80.1 L123.5,134.5 Q123.5,137.0 126.0,137.0 L135.5,137.0" fill="none" stroke="#444" stroke-width="1"/><path d="M121.5,87.5 L115.0,87.5 Q112.5,87.5 112.5,90.0 L112.5,131.3 Q112.5,133.8 110.0,133.8 L101.0,133.8 M110.0,133.8 Q112.5,133.8 112.5,136.3 L112.5,178.3 Q112.5,180.8 115.0,180.8 L122.5,180.8" fill="none" stroke="#444" stroke-width="1"/><path d="M134.5,141.2 L127.0,141.2 Q124.5,141.2 124.5,143.7 L124.5,184.8 Q124.5,187.3 122.0,187.3 L114.5,187.3 M122.0,187.3 Q124.5,187.3 124.5,189.8 L124.5,230.0 Q124.5,232.5 127.0,232.5 L134.5,232.5" fill="none" stroke="#6666ff" stroke-width="1"/><path d="M121.0,223.0 L113.5,223.0 Q111.0,223.0 111.0,225.5 L111.0,296.2 Q111.0,298.7 108.5,298.7 L100.5,298.7 M108.5,298.7 Q111.0,298.7 111.0,301.2 L111.0,370.8 Q111.0,373.3 113.5,373.3 L121.0,373.3" fill="none" stroke="#6666ff" stroke-width="1"/><path d="M79.0,73.7 L64.5,73.7 Q62.0,73.7 62.0,76.2 L62.0,114.6 Q62.0,117.1 59.5,117.1 L43.0,117.1 M59.5,117.1 Q62.0,117.1 62.0,119.6 L62.0,157.5 Q62.0,160.0 64.5,160.0 L78.0,160.0" fill="none" stroke="#ff4848" stroke-width="1"/><path d="M43.0,124.0 L38.5,124.0 Q36.0,124.0 36.0,126.5 L36.0,165.5 Q36.0,168.0 33.5,168.0 L26.0,168.0 M33.5,168.0 Q36.0,168.0 36.0,170.5 L36.0,208.5 Q36.0,211.0 38.5,211.0 L43.0,211.0" fill="none" stroke="#ff4848" stroke-width="1"/><path d="M79.5,162.0 L75.0,162.0 Q72.5,162.0 72.5,164.5 L72.5,201.2 Q72.5,203.7 70.0,203.7 L63.0,203.7 M70.0,203.7 Q72.5,203.7 72.5,206.2 L72.5,241.2 Q72.5,243.7 75.0,243.7 L79.5,243.7" fill="none" stroke="#ff4848" stroke-width="1"/><path d="M261.4,365.7 L261.4,369.2 Q261.4,371.7 263.9,371.7 L313.5,371.7 Q316.0,371.7 316.0,374.2 L316.0,379.7 M316.0,374.2 Q316.0,371.7 318.5,371.7 L368.6,371.7 Q371.1,371.7 371.1,369.2 L371.1,365.7" fill="none" stroke="#6666ff" stroke-width="1"/><path d="M112.3,377.3 L112.3,380.3 Q112.3,382.8 114.8,382.8 L208.0,382.8 Q210.5,382.8 210.5,385.3 L210.5,390.5 M210.5,385.3 Q210.5,382.8 213.0,382.8 L307.1,382.8 Q309.6,382.8 309.6,380.3 L309.6,377.8" fill="none" stroke="#6666ff" stroke-width="1"/><path d="M285.3,384.7 L285.3,390.7 Q285.3,393.2 287.8,393.2 L362.7,393.2 Q365.2,393.2 365.2,395.7 L365.2,404.2 M365.2,395.7 Q365.2,393.2 367.7,393.2 L442.3,393.2 Q444.8,393.2 444.8,390.7 L444.8,384.7" fill="none" stroke="#ff4848" stroke-width="1"/><path d="M376.6,395.0 L376.6,401.5 Q376.6,404.0 379.1,404.0 L434.7,404.0 Q437.2,404.0 437.2,406.5 L437.2,415.0 M437.2,406.5 Q437.2,404.0 439.7,404.0 L496.0,404.0 Q498.5,404.0 498.5,401.5 L498.5,395.0" fill="none" stroke="#ff4848" stroke-width="1"/><path d="M473.3,385.9 L473.3,391.4 Q473.3,393.9 475.8,393.9 L577.1,393.9 Q579.6,393.9 579.6,396.4 L579.6,403.9 M579.6,396.4 Q579.6,393.9 582.1,393.9 L683.5,393.9 Q686.0,393.9 686.0,391.4 L686.0,385.9" fill="none" stroke="#ff4848" stroke-width="1"/><path d="M189.3,412.5 L189.3,417.0 Q189.3,419.5 191.8,419.5 L260.4,419.5 Q262.9,419.5 262.9,422.0 L262.9,430.0 M262.9,422.0 Q262.9,419.5 265.4,419.5 L334.0,419.5 Q336.5,419.5 336.5,417.0 L336.5,412.5" fill="none" stroke="#444" stroke-width="1"/><path d="M274.5,423.8 L274.5,428.6 Q274.5,431.1 277.0,431.1 L335.8,431.1 Q338.3,431.1 338.3,433.6 L338.3,440.6 M338.3,433.6 Q338.3,431.1 340.8,431.1 L398.9,431.1 Q401.4,431.1 401.4,428.6 L401.4,423.8" fill="none" stroke="#444" stroke-width="1"/>
<path d="M81.70,73.70 h8.60 M86.00,69.40 v8.60" stroke="#111" stroke-width="1.25"/><text transform="translate(91.54,81.10) scale(1.20,1)" font-family="Liberation Serif" font-size="11.00" stroke="#111" stroke-width="0.15" fill="#111">1</text><path d="M81.70,130.30 h8.60 M86.00,126.00 v8.60" stroke="#111" stroke-width="1.25"/><text transform="translate(92.12,137.20) scale(1.20,1)" font-family="Liberation Serif" font-size="11.00" stroke="#111" stroke-width="0.15" fill="#111">2</text><path d="M5.60,110.90 L8.35,116.10 L5.60,121.30 L2.85,116.10 Z" fill="none" stroke="#ff0000" stroke-width="1.3" stroke-linejoin="miter"/><text x="9.75" y="124.00" font-family="Liberation Sans" font-size="11.20" fill="#ff1a1a">1</text><path d="M5.85,164.00 L8.60,169.20 L5.85,174.40 L3.10,169.20 Z" fill="none" stroke="#ff0000" stroke-width="1.3" stroke-linejoin="miter"/><text x="9.64" y="176.60" font-family="Liberation Sans" font-size="11.20" fill="#ff1a1a">2</text><path d="M45.90,197.90 L48.65,203.10 L45.90,208.30 L43.15,203.10 Z" fill="none" stroke="#ff0000" stroke-width="1.3" stroke-linejoin="miter"/><text x="49.57" y="211.19" font-family="Liberation Sans" font-size="11.20" fill="#ff1a1a">3</text><text x="83.00" y="190.66" font-family="Liberation Serif" font-size="14.00" font-style="italic" stroke="#2a2aee" stroke-width="0.30" fill="#2a2aee">O</text><text transform="translate(91.32,193.80) scale(1.20,1)" font-family="Liberation Serif" font-size="11.00" stroke="#2a2aee" stroke-width="0.15" fill="#2a2aee">2</text><text x="83.40" y="301.86" font-family="Liberation Serif" font-size="14.00" font-style="italic" stroke="#2a2aee" stroke-width="0.30" fill="#2a2aee">O</text><text transform="translate(91.84,303.00) scale(1.20,1)" font-family="Liberation Serif" font-size="11.00" stroke="#2a2aee" stroke-width="0.15" fill="#2a2aee">1</text><text x="203.70" y="409.46" font-family="Liberation Serif" font-size="14.00" font-style="italic" stroke="#2a2aee" stroke-width="0.30" fill="#2a2aee">O</text><text transform="translate(212.04,412.40) scale(1.20,1)" font-family="Liberation Serif" font-size="11.00" stroke="#2a2aee" stroke-width="0.15" fill="#2a2aee">1</text><text x="309.00" y="409.36" font-family="Liberation Serif" font-size="14.00" font-style="italic" stroke="#2a2aee" stroke-width="0.30" fill="#2a2aee">O</text><text transform="translate(317.52,412.50) scale(1.20,1)" font-family="Liberation Serif" font-size="11.00" stroke="#2a2aee" stroke-width="0.15" fill="#2a2aee">2</text><path d="M361.15,411.55 L363.90,416.75 L361.15,421.95 L358.40,416.75 Z" fill="none" stroke="#ff0000" stroke-width="1.3" stroke-linejoin="miter"/><text x="364.25" y="425.00" font-family="Liberation Sans" font-size="11.20" fill="#ff1a1a">1</text><path d="M433.35,421.35 L436.10,426.55 L433.35,431.75 L430.60,426.55 Z" fill="none" stroke="#ff0000" stroke-width="1.3" stroke-linejoin="miter"/><text x="438.04" y="434.80" font-family="Liberation Sans" font-size="11.20" fill="#ff1a1a">2</text><path d="M575.65,419.45 L578.40,424.65 L575.65,429.85 L572.90,424.65 Z" fill="none" stroke="#ff0000" stroke-width="1.3" stroke-linejoin="miter"/><text x="580.57" y="432.49" font-family="Liberation Sans" font-size="11.20" fill="#ff1a1a">3</text><path d="M252.50,451.00 h8.60 M256.80,446.70 v8.60" stroke="#111" stroke-width="1.25"/><text transform="translate(262.64,459.00) scale(1.20,1)" font-family="Liberation Serif" font-size="11.00" stroke="#111" stroke-width="0.15" fill="#111">1</text><path d="M329.60,451.00 h8.60 M333.90,446.70 v8.60" stroke="#111" stroke-width="1.25"/><text transform="translate(340.22,459.00) scale(1.20,1)" font-family="Liberation Serif" font-size="11.00" stroke="#111" stroke-width="0.15" fill="#111">2</text>
</svg></body></html>
